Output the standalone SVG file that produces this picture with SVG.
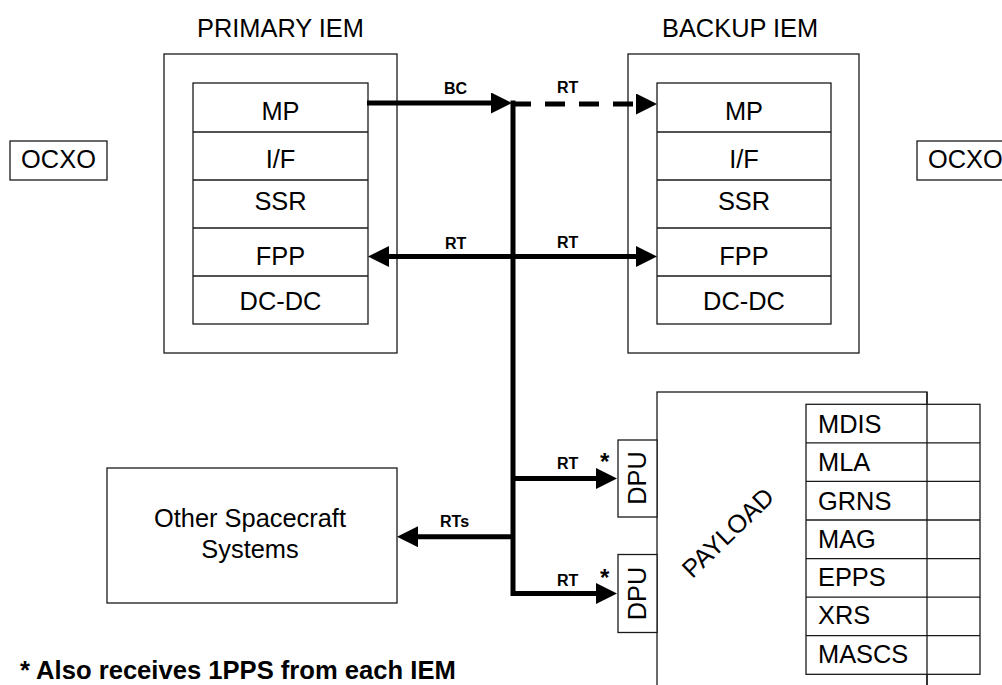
<svg xmlns="http://www.w3.org/2000/svg" width="1002" height="685" viewBox="0 0 1002 685">
  <style>
    .box { fill: #fff; stroke: #1a1a1a; stroke-width: 1.3; }
    .ln { fill: none; stroke: #1a1a1a; stroke-width: 1.3; }
    .t { font-family: "Liberation Sans", Arial, sans-serif; font-size: 25.4px; fill: #000; }
    .c { text-anchor: middle; }
    .lbl { font-family: "Liberation Sans", Arial, sans-serif; font-size: 16px; font-weight: bold; fill: #000; }
    .ast { font-family: "Liberation Sans", Arial, sans-serif; font-size: 24px; font-weight: bold; fill: #000; }
    .note { font-family: "Liberation Sans", Arial, sans-serif; font-size: 25.6px; font-weight: bold; fill: #000; }
    .bus { fill: none; stroke: #000; stroke-width: 5; stroke-linejoin: miter; }
    .dash { stroke-dasharray: 20 14; }
  </style>
  <defs>
    <marker id="arrow" markerUnits="userSpaceOnUse" markerWidth="22" markerHeight="22" refX="5" refY="10.5" orient="auto-start-reverse" viewBox="0 0 22 22">
      <path d="M0,0 L21,10.5 L0,21 Z" fill="#000" stroke="none"/>
    </marker>
  </defs>
  <rect width="1002" height="685" fill="#fff"/>

  <!-- oscillators -->
  <g id="ocxo-left">
    <rect class="box" x="10" y="141" width="97" height="39"/>
    <text class="t c" x="58.5" y="168">OCXO</text>
  </g>
  <g id="ocxo-right">
    <rect class="box" x="917" y="141" width="97" height="39"/>
    <text class="t" x="928" y="168">OCXO</text>
  </g>

  <!-- primary IEM -->
  <g id="primary-iem">
    <text class="t" x="197" y="37">PRIMARY IEM</text>
    <rect class="box" x="164" y="54" width="233" height="299"/>
    <rect class="box" x="193" y="83" width="175" height="241"/>
    <path class="ln" d="M193,132 H368 M193,180 H368 M193,228 H368 M193,276 H368"/>
    <text class="t c" x="280.5" y="120">MP</text>
    <text class="t c" x="280.5" y="168">I/F</text>
    <text class="t c" x="280.5" y="210">SSR</text>
    <text class="t c" x="280.5" y="265">FPP</text>
    <text class="t c" x="280.5" y="310">DC-DC</text>
  </g>

  <!-- backup IEM -->
  <g id="backup-iem">
    <text class="t" x="662" y="37">BACKUP IEM</text>
    <rect class="box" x="628" y="54" width="231" height="299"/>
    <rect class="box" x="657" y="83" width="174" height="241"/>
    <path class="ln" d="M657,132 H831 M657,180 H831 M657,228 H831 M657,276 H831"/>
    <text class="t c" x="744" y="120">MP</text>
    <text class="t c" x="744" y="168">I/F</text>
    <text class="t c" x="744" y="210">SSR</text>
    <text class="t c" x="744" y="265">FPP</text>
    <text class="t c" x="744" y="310">DC-DC</text>
  </g>

  <!-- other spacecraft systems -->
  <g id="other-systems">
    <rect class="box" x="107" y="468" width="290" height="135"/>
    <text class="t c" x="250" y="527">Other Spacecraft</text>
    <text class="t c" x="250" y="558">Systems</text>
  </g>

  <!-- payload -->
  <g id="payload">
    <rect class="box" x="657" y="392" width="270" height="310"/>
    <text class="t c" x="734" y="539" transform="rotate(-44 734 539)">PAYLOAD</text>
  </g>

  <g id="dpu-1">
    <rect class="box" x="618" y="440" width="39" height="77"/>
    <text class="t c" x="646" y="478" transform="rotate(-90 646 478)">DPU</text>
  </g>
  <g id="dpu-2">
    <rect class="box" x="618" y="554.5" width="39" height="78"/>
    <text class="t c" x="646" y="593.5" transform="rotate(-90 646 593.5)">DPU</text>
  </g>

  <g id="instruments">
    <rect class="box" x="806" y="404.3" width="174" height="270"/>
    <path class="ln" d="M806,442.9 H980 M806,481.4 H980 M806,520 H980 M806,558.6 H980 M806,597.1 H980 M806,635.7 H980"/>
    <path class="ln" d="M927,392 V685"/>
    <text class="t" x="818" y="432.7">MDIS</text>
    <text class="t" x="818" y="471">MLA</text>
    <text class="t" x="818" y="509.5">GRNS</text>
    <text class="t" x="818" y="547.5">MAG</text>
    <text class="t" x="818" y="586">EPPS</text>
    <text class="t" x="818" y="624">XRS</text>
    <text class="t" x="818" y="662.5">MASCS</text>
  </g>

  <!-- 1553 bus connectors -->
  <g id="connectors">
    <path class="bus" d="M367,103 H496" marker-end="url(#arrow)"/>
    <path class="bus dash" d="M511,104 H641" marker-end="url(#arrow)"/>
    <path class="bus" d="M384,256.5 H641" marker-start="url(#arrow)" marker-end="url(#arrow)"/>
    <path class="bus" d="M513,100.5 V593.5 H601" marker-end="url(#arrow)"/>
    <path class="bus" d="M513,478.5 H601" marker-end="url(#arrow)"/>
    <path class="bus" d="M513,536.7 H413" marker-end="url(#arrow)"/>
  </g>

  <g id="connector-labels">
    <text class="lbl" x="444" y="94">BC</text>
    <text class="lbl" x="557" y="92.7">RT</text>
    <text class="lbl" x="445" y="249.3">RT</text>
    <text class="lbl" x="557" y="247.7">RT</text>
    <text class="lbl" x="557" y="469.3">RT</text>
    <text class="lbl" x="557" y="586">RT</text>
    <text class="lbl" x="440" y="527.3">RTs</text>
    <text class="ast" x="600" y="470">*</text>
    <text class="ast" x="600" y="585.5">*</text>
  </g>

  <g id="footnote">
    <text class="note" x="20" y="679">* Also receives 1PPS from each IEM</text>
  </g>
</svg>
